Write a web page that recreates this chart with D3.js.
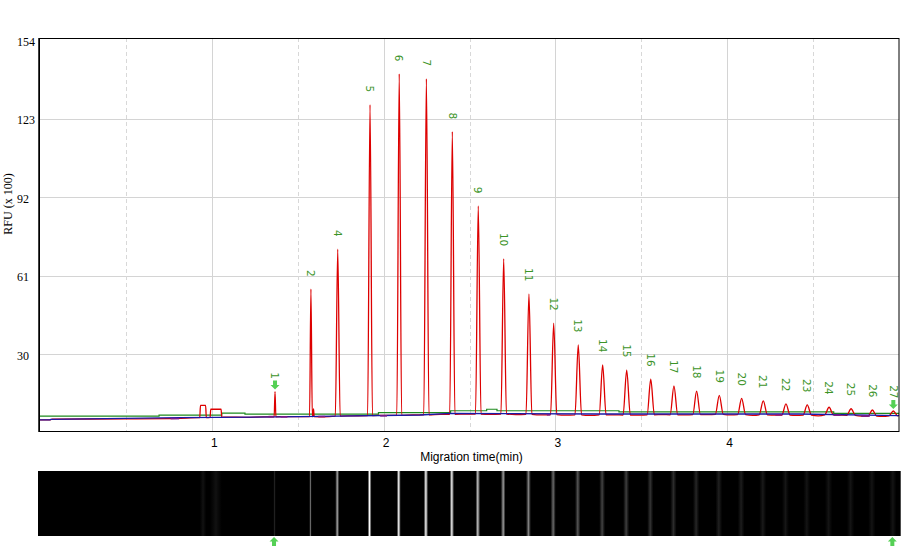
<!DOCTYPE html>
<html><head><meta charset="utf-8">
<script src="https://cdn.jsdelivr.net/npm/d3@7"></script>
<style>body{margin:0;background:#fff}svg{display:block}</style>
</head><body>
<svg id="c" width="909" height="556"></svg>
<script>
// ---- data ----
const xTicks = [1, 2, 3, 4];
const xHalfTicks = [0.5, 1.5, 2.5, 3.5, 4.5];
const yTicks = [30, 61, 92, 123, 154];

const peakLabels = ["1","2","4","5","6","7","8","9","10","11","12","13","14","15","16","17","18","19","20","21","22","23","24","25","26","27"];
const peakTimes  = [1.368,1.577,1.733,1.921,2.091,2.249,2.400,2.551,2.699,2.846,2.990,3.133,3.275,3.415,3.555,3.690,3.822,3.954,4.084,4.210,4.342,4.466,4.593,4.721,4.845,4.967];
const peakHeights= [15.2,55.7,71.5,128.6,140.8,138.9,118.0,88.6,67.7,53.8,42.2,33.6,25.7,23.7,20.1,17.4,15.4,13.7,12.5,11.5,10.3,9.9,9.0,8.4,7.9,7.5];
const peakWidths = [0.005,0.008,0.014,0.014,0.014,0.015,0.015,0.016,0.016,0.017,0.018,0.019,0.020,0.021,0.021,0.022,0.022,0.023,0.023,0.024,0.024,0.024,0.025,0.025,0.025,0.025];
const peakBase   = [5.2,5.3,5.5,5.7,5.8,6.0,6.2,6.3,6.3,6.2,6.1,6.0,6.0,5.9,6.0,6.0,6.1,6.2,6.1,6.0,5.9,5.9,6.0,5.8,5.5,5.6];

// flat-topped early bumps: [start, end, top, base]
const bumps = [[0.930, 0.968, 9.7, 4.9], [0.990, 1.058, 8.2, 5.0]];
// minor spikes: [time, top, halfwidth, base]
const minorPeaks = [[1.592, 8.3, 0.004, 5.3]];

// red trace baseline readings
const redBaseT = [0, 0.060, 0.070, 0.50, 0.80, 0.92, 1.08, 1.20, 1.30, 1.45, 1.65, 1.82, 2.00, 2.17, 2.33, 2.48, 2.62, 2.77, 2.92, 3.06, 3.20, 3.35, 3.49, 3.62, 3.76, 3.89, 4.02, 4.15, 4.28, 4.40, 4.53, 4.66, 4.78, 4.90, 4.94, 5.0];
const redBaseV = [4.0, 4.0, 4.3, 4.4, 4.6, 4.9, 5.1, 5.0, 5.2, 5.3, 5.2, 5.6, 5.8, 6.0, 6.2, 6.3, 6.2, 6.1, 6.0, 5.9, 5.8, 6.0, 5.9, 6.1, 6.0, 6.1, 6.0, 5.8, 5.9, 5.8, 5.6, 5.9, 5.5, 5.4, 5.5, 5.9];

// green baseline (step)
const greenT = [0, 0.693, 1.058, 1.193, 1.97, 2.39, 2.60, 2.66, 3.37, 4.62, 5.0];
const greenV = [5.5, 5.9, 6.7, 6.3, 6.85, 7.6, 8.2, 7.6, 7.2, 6.6, 6.6];

// blue baseline
const blueT = [0, 0.058, 0.062, 0.815, 1.51, 2.21, 2.39, 3.26, 4.42, 5.0];
const blueV = [4.0, 4.0, 4.2, 4.85, 5.26, 5.93, 6.6, 6.33, 6.33, 5.65];

// purple fragments: [start, end, level]
const purpleSegs = [[0.76,0.81,4.5],[1.33,1.36,5.3],[1.40,1.44,5.2],[1.62,1.66,5.3],[1.98,2.02,5.6],[2.95,2.97,6.0],[4.28,4.32,6.0],[4.62,4.66,5.9],[4.78,4.83,5.5]];

// ---- drawing ----
const svg = d3.select("#c");
const L = 40, R = 899, T = 38, B = 431;
const x = d3.scaleLinear().domain([0, 5]).range([L, R]);
const y = d3.scaleLinear().domain([-0.4, 155]).range([B, T]);

// grid
const g = svg.append("g");
g.selectAll(".hg").data(yTicks.filter(d => d < 154)).enter().append("line")
  .attr("x1", L).attr("x2", R).attr("y1", d => Math.round(y(d)) + 0.5).attr("y2", d => Math.round(y(d)) + 0.5)
  .attr("stroke", "#d4d4d4").attr("stroke-width", 1);
g.selectAll(".vg").data(xTicks).enter().append("line")
  .attr("x1", d => Math.round(x(d)) + 0.5).attr("x2", d => Math.round(x(d)) + 0.5).attr("y1", T).attr("y2", B)
  .attr("stroke", "#d4d4d4").attr("stroke-width", 1);
g.selectAll(".vh").data(xHalfTicks).enter().append("line")
  .attr("x1", d => Math.round(x(d)) + 0.5).attr("x2", d => Math.round(x(d)) + 0.5).attr("y1", T).attr("y2", B)
  .attr("stroke", "#d8d8d8").attr("stroke-width", 1).attr("stroke-dasharray", "4,3");

// green baseline
const gpts = greenT.map((t, i) => [t, greenV[i]]);
svg.append("path").datum(gpts)
  .attr("d", d3.line().x(d => x(d[0])).y(d => y(d[1])).curve(d3.curveStepAfter))
  .attr("fill", "none").attr("stroke", "#1e8a1e").attr("stroke-width", 1.2);

// red trace
let pts = [];
const inPeak = t => peakTimes.some((pt, i) => Math.abs(t - pt) <= peakWidths[i] + 0.003)
  || bumps.some(b => t >= b[0] - 0.003 && t <= b[1] + 0.003)
  || minorPeaks.some(m => Math.abs(t - m[0]) <= m[2] + 0.002);
redBaseT.forEach((t, i) => { if (!inPeak(t)) pts.push([t, redBaseV[i]]); });
peakTimes.forEach((t, i) => {
  pts.push([t - peakWidths[i], peakBase[i]]);
  pts.push([t, peakHeights[i]]);
  pts.push([t + peakWidths[i], peakBase[i]]);
});
bumps.forEach(b => {
  pts.push([b[0], b[3]]); pts.push([b[0] + 0.004, b[2]]);
  pts.push([b[1] - 0.004, b[2]]); pts.push([b[1], b[3]]);
});
minorPeaks.forEach(m => {
  pts.push([m[0] - m[2], m[3]]); pts.push([m[0], m[1]]); pts.push([m[0] + m[2], m[3]]);
});
pts.sort((a, b) => a[0] - b[0]);
svg.append("path").datum(pts)
  .attr("d", d3.line().x(d => x(d[0])).y(d => y(d[1])).curve(d3.curveMonotoneX))
  .attr("fill", "none").attr("stroke", "#dd0000").attr("stroke-width", 1.3).attr("stroke-linejoin", "round");

// blue baseline
const bpts = blueT.map((t, i) => [t, blueV[i]]);
svg.append("path").datum(bpts)
  .attr("d", d3.line().x(d => x(d[0])).y(d => y(d[1])))
  .attr("fill", "none").attr("stroke", "#1a1aa8").attr("stroke-width", 1.3);

// purple fragments
svg.selectAll(".pu").data(purpleSegs).enter().append("line")
  .attr("x1", d => x(d[0])).attr("x2", d => x(d[1])).attr("y1", d => y(d[2])).attr("y2", d => y(d[2]))
  .attr("stroke", "#7a1a8a").attr("stroke-width", 1.6);

// frame
svg.append("rect").attr("x", L - 0.5).attr("y", T + 0.5).attr("width", R - L + 0.5).attr("height", B - T)
  .attr("fill", "none").attr("stroke", "#000").attr("stroke-width", 1);
svg.append("line").attr("x1", L - 1).attr("x2", L - 1).attr("y1", T).attr("y2", B + 1)
  .attr("stroke", "#000").attr("stroke-width", 1.5);

// peak labels
const labelG = svg.append("g");
peakLabels.forEach((lab, i) => {
  const px = x(peakTimes[i]), py = y(peakHeights[i]) - 12.5;
  labelG.append("text").attr("transform", `translate(${px},${py}) rotate(90)`)
    .attr("text-anchor", "end").attr("dy", "0.36em")
    .attr("font-family", "DejaVu Sans, sans-serif").attr("font-size", 10.5)
    .attr("fill", "#3c9428").text(lab);
});

// marker arrows
const arrowDown = "M0,0 L-4.5,-4.5 L-2,-4.5 L-2,-9 L2,-9 L2,-4.5 L4.5,-4.5 Z";
const arrowUp = "M0,0 L-4.5,4.5 L-2,4.5 L-2,9 L2,9 L2,4.5 L4.5,4.5 Z";
[0, peakTimes.length - 1].forEach(i => {
  svg.append("path").attr("d", arrowDown)
    .attr("transform", `translate(${x(peakTimes[i])},${y(peakHeights[i]) - 2})`)
    .attr("fill", "#55d055");
  svg.append("path").attr("d", arrowUp)
    .attr("transform", `translate(${x(peakTimes[i]) - 1},537)`)
    .attr("fill", "#55d055");
});

// y ticks
svg.selectAll(".yl").data(yTicks).enter().append("text")
  .attr("x", 17).attr("y", d => y(d) + 5.5)
  .attr("font-family", "Liberation Serif, serif").attr("font-size", 12).attr("fill", "#000")
  .text(d => d);
// x ticks
svg.selectAll(".xl").data(xTicks).enter().append("text")
  .attr("x", d => x(d) + 2.5).attr("y", 446.5).attr("text-anchor", "middle")
  .attr("font-family", "Liberation Sans, Arial, sans-serif").attr("font-size", 12).attr("fill", "#000")
  .text(d => d);
svg.append("text").attr("x", 471.5).attr("y", 461).attr("text-anchor", "middle")
  .attr("font-family", "Liberation Sans, Arial, sans-serif").attr("font-size", 12).attr("fill", "#000")
  .text("Migration time(min)");
svg.append("text").attr("transform", "translate(12,204) rotate(-90)").attr("text-anchor", "middle")
  .attr("font-family", "Liberation Serif, serif").attr("font-size", 12).attr("fill", "#000")
  .text("RFU (x 100)");

// ---- gel strip ----
const gelTop = 471, gelBot = 536;
const gel = svg.append("g");
gel.append("rect").attr("x", 38).attr("y", gelTop).attr("width", 900.7 - 38).attr("height", gelBot - gelTop).attr("fill", "#000");
const defs = svg.append("defs");
const grad = defs.append("linearGradient").attr("id", "band").attr("x1", "0").attr("x2", "1").attr("y1", "0").attr("y2", "0");
grad.append("stop").attr("offset", "0%").attr("stop-color", "#fff").attr("stop-opacity", 0);
grad.append("stop").attr("offset", "30%").attr("stop-color", "#fff").attr("stop-opacity", 0.55);
grad.append("stop").attr("offset", "50%").attr("stop-color", "#fff").attr("stop-opacity", 1);
grad.append("stop").attr("offset", "70%").attr("stop-color", "#fff").attr("stop-opacity", 0.55);
grad.append("stop").attr("offset", "100%").attr("stop-color", "#fff").attr("stop-opacity", 0);
const bright = d3.scalePow().exponent(0.75).domain([0, 115]).range([0, 1]).clamp(true);
peakTimes.forEach((t, i) => {
  const wpx = Math.max(2.5, peakWidths[i] * (x(1) - x(0)) * 1.7);
  gel.append("rect").attr("x", x(t) - wpx / 2 - 0.5).attr("y", gelTop).attr("width", wpx).attr("height", gelBot - gelTop)
    .attr("fill", "url(#band)").attr("opacity", Math.max(0.08, bright(peakHeights[i] - peakBase[i])) * (i < 2 ? 0.8 : 1));
});
bumps.forEach(b => {
  gel.append("rect").attr("x", x(b[0])).attr("y", gelTop).attr("width", x(b[1]) - x(b[0])).attr("height", gelBot - gelTop)
    .attr("fill", "url(#band)").attr("opacity", 0.07);
});
</script>
</body></html>
